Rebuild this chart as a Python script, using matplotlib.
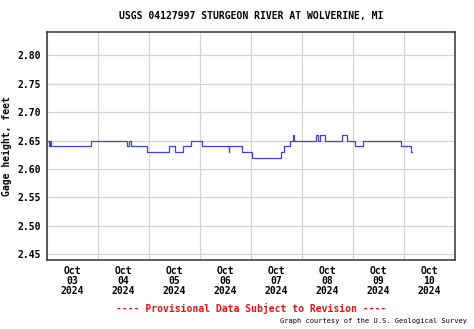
import numpy as np
import pandas as pd
import matplotlib
matplotlib.use("Agg")
import matplotlib.pyplot as plt
import matplotlib.dates as mdates

# gage height change points: hours after 2024-10-03 00:00 and reading (ft)
hours = [0.0, 0.75, 1.25, 1.75, 20.75, 37.5, 38.5, 39.75, 47.0, 57.5,
         60.25, 64.0, 67.75, 72.75, 85.5, 85.75, 91.75, 96.25, 110.0, 111.5,
         114.5, 116.0, 116.25, 126.75, 127.5, 128.25, 131.0, 138.75, 141.25,
         144.75, 148.5, 166.5, 171.5, 171.75]
gage_ft = [2.65, 2.64, 2.65, 2.64, 2.65, 2.64, 2.65, 2.64, 2.63, 2.64,
           2.63, 2.64, 2.65, 2.64, 2.63, 2.64, 2.63, 2.62, 2.63, 2.64,
           2.65, 2.66, 2.65, 2.66, 2.65, 2.66, 2.65, 2.66, 2.65,
           2.64, 2.65, 2.64, 2.63, 2.63]

start = pd.Timestamp("2024-10-03 00:00")
end = pd.Timestamp("2024-10-11 00:00")
times = start + pd.to_timedelta(hours, unit="h")

y_ticks = [2.45, 2.50, 2.55, 2.60, 2.65, 2.70, 2.75, 2.80]

font = "DejaVu Sans Mono"

fig = plt.figure(figsize=(4.74, 3.29), dpi=100)
ax = fig.add_axes([47 / 474, 1 - 260 / 329, 408 / 474, 228 / 329])

ax.step(times, gage_ft, where="post", color="#4343dc", linewidth=0.9, zorder=3)

ax.set_xlim(start, end)
ax.set_ylim(2.44, 2.841)

# gridlines at midnight, date labels centred at noon
ax.xaxis.set_major_locator(mdates.DayLocator())
ax.xaxis.set_major_formatter(plt.NullFormatter())
ax.xaxis.set_minor_locator(mdates.HourLocator(byhour=12))
ax.xaxis.set_minor_formatter(mdates.DateFormatter("%b\n%d\n%Y"))
ax.tick_params(axis="x", which="both", length=0, pad=4)
ax.set_yticks(y_ticks)
ax.set_yticklabels([f"{v:.2f}" for v in y_ticks])
ax.tick_params(axis="y", length=0, pad=4)

for lbl in ax.xaxis.get_minorticklabels():
    lbl.set_fontfamily(font)
    lbl.set_fontweight("bold")
    lbl.set_fontsize(7)
    lbl.set_linespacing(1.05)
for lbl in ax.get_yticklabels():
    lbl.set_fontfamily(font)
    lbl.set_fontweight("bold")
    lbl.set_fontsize(7)

ax.grid(True, which="major", color="#d4d4d4", linewidth=0.9)
ax.set_axisbelow(True)
for spine in ax.spines.values():
    spine.set_color("#333333")
    spine.set_linewidth(1.1)

ax.set_ylabel("Gage height, feet", fontfamily=font, fontweight="bold", fontsize=7)
ax.yaxis.set_label_coords(-35 / 408, 0.5)

fig.text(251 / 474, 1 - 16 / 329, "USGS 04127997 STURGEON RIVER AT WOLVERINE, MI",
         ha="center", va="center", fontfamily=font, fontweight="bold", fontsize=7)
fig.text(251 / 474, 1 - 308 / 329, "---- Provisional Data Subject to Revision ----",
         ha="center", va="center", fontfamily=font, fontweight="bold", fontsize=7,
         color="#ee1111")
fig.text(467 / 474, 1 - 321 / 329, "Graph courtesy of the U.S. Geological Survey",
         ha="right", va="center", fontfamily=font, fontsize=5)

fig.savefig("out.png", dpi=100)
